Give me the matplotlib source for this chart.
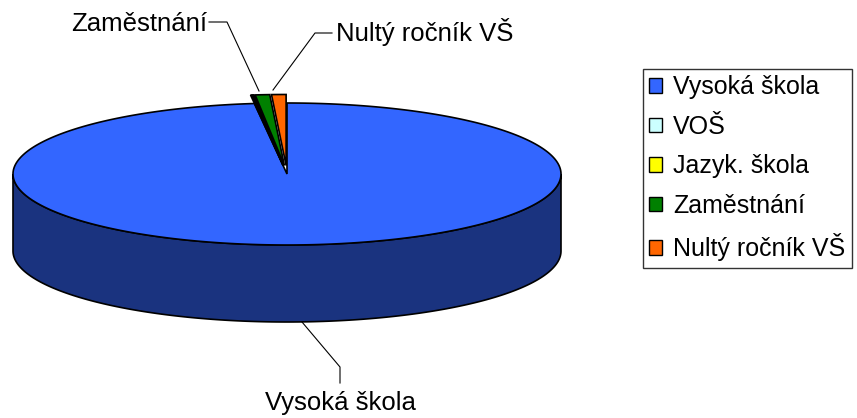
import numpy as np
import matplotlib
matplotlib.use("Agg")
import matplotlib.pyplot as plt
from matplotlib.patches import Polygon, Patch

# data
labels = ["Vysoká škola", "VOŠ", "Jazyk. škola", "Zaměstnání", "Nultý ročník VŠ"]
values = [98.1, 0.1, 0.1, 0.85, 0.85]
top_colors = ["#3366FF", "#CCFFFF", "#FFFF00", "#008000", "#FF6600"]
side_colors = ["#1A337F", "#667F7F", "#7F7F00", "#004000", "#7F3300"]
exploded = [False, True, True, True, True]

plt.rcParams["font.family"] = ["Liberation Sans", "DejaVu Sans"]
FS = 18.5

# pie geometry in pixel units
cx, cy = 287, 174
rx, ry = 274, 71
depth = 77
explode = 0.12


def rim(theta, dx=0.0, dy=0.0, down=0.0):
    # theta clockwise from 12 o'clock, in radians
    return np.column_stack([cx + dx + rx * np.sin(theta), cy + dy + down - ry * np.cos(theta)])


fig = plt.figure(figsize=(8.57, 4.18), dpi=100)
ax = fig.add_axes([0, 0, 1, 1])
ax.set_xlim(0, 857)
ax.set_ylim(418, 0)
ax.axis("off")

total = sum(values)
bounds = np.concatenate([[0], np.cumsum(values)]) / total * 2 * np.pi

# side of the big slice (front half only is visible)
t0, t1 = bounds[0], bounds[1]
front = np.linspace(max(t0, np.pi / 2), min(t1, 3 * np.pi / 2), 200)
side = np.vstack([rim(front), rim(front[::-1], down=depth)])
ax.add_patch(Polygon(side, closed=True, fc=side_colors[0], ec="black", lw=1.2, zorder=1))

# top faces
for i in range(len(values)):
    a, b = bounds[i], bounds[i + 1]
    dx = dy = 0.0
    if exploded[i]:
        mid = (a + b) / 2
        dx = rx * explode * np.sin(mid)
        dy = -ry * explode * np.cos(mid)
    t = np.linspace(a, b, max(int((b - a) * 80), 4))
    pts = np.vstack([[cx + dx, cy + dy], rim(t, dx, dy)])
    ax.add_patch(Polygon(pts, closed=True, fc=top_colors[i], ec="black", lw=1.2, zorder=2 + i))

# data labels with leader lines
ax.plot([302, 340, 340], [322, 367, 383], color="black", lw=0.8, zorder=10)
ax.text(340, 403, labels[0], fontsize=FS, ha="center", va="center")
ax.plot([209, 227, 259], [22, 22, 91], color="black", lw=0.8, zorder=10)
ax.text(207, 24, labels[3], fontsize=FS, ha="right", va="center")
ax.plot([273, 315, 332], [90, 33, 33], color="black", lw=0.8, zorder=10)
ax.text(336, 32, labels[4], fontsize=FS, ha="left", va="center")

handles = [Patch(fc=c, ec="black", lw=1) for c in top_colors]
leg = ax.legend(handles, labels, loc="upper left", bbox_to_anchor=(643 / 857, 1 - 69 / 418),
                bbox_transform=fig.transFigure, fontsize=18, frameon=True, fancybox=False,
                handlelength=0.5, handleheight=0.5, handletextpad=0.45, labelspacing=0.62,
                borderpad=0.25, borderaxespad=0)
leg.get_frame().set_edgecolor("black")
leg.get_frame().set_linewidth(1)

fig.savefig("out.png", dpi=100)
